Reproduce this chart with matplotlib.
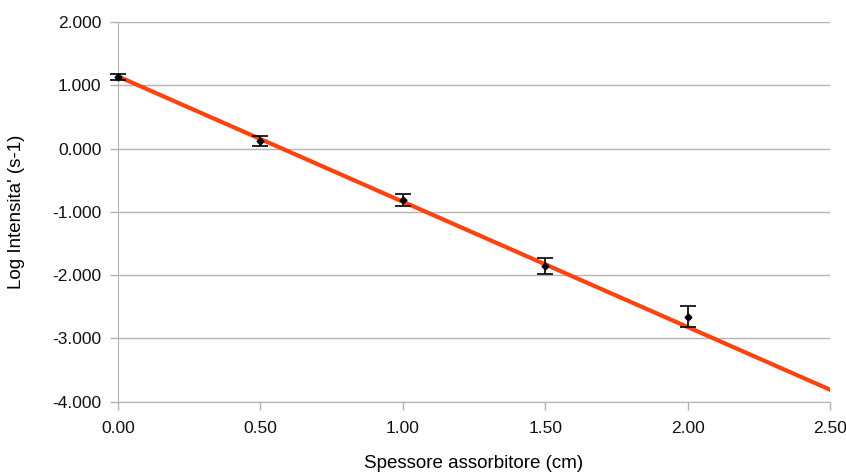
import matplotlib.pyplot as plt
import numpy as np

plt.rcParams['font.family'] = ['Liberation Sans', 'DejaVu Sans']

thickness = [0.0, 0.5, 1.0, 1.5, 2.0]
log_intensity = [1.13, 0.12, -0.81, -1.855, -2.655]
errors = [0.05, 0.08, 0.095, 0.125, 0.17]

# parametri della retta di fit
fit_slope = -1.98
fit_intercept = 1.14

fig = plt.figure(figsize=(8.46, 4.72), dpi=100)
ax = fig.add_axes([0.1395, 0.149, 0.8416, 0.8045])

x_fit = np.array([0.0, 2.5])
ax.plot(x_fit, fit_intercept + fit_slope * x_fit, color='#ff420e', lw=3, zorder=2)
eb = ax.errorbar(thickness, log_intensity, yerr=errors, fmt='D', color='black',
                 ms=3.5, capsize=5.5, elinewidth=1.2, capthick=1.2, zorder=3)
for art in eb.get_children():
    art.set_clip_on(False)

ax.set_xlim(0, 2.5)
ax.set_ylim(-4, 2)
ax.set_xticks(np.arange(0, 2.51, 0.5))
ax.set_yticks(np.arange(-4, 2.01, 1))
ax.xaxis.set_major_formatter(plt.FormatStrFormatter('%.2f'))
ax.yaxis.set_major_formatter(plt.FormatStrFormatter('%.3f'))
ax.grid(axis='y', color='#b3b3b3', lw=1)
ax.set_axisbelow(True)
for s in ['top', 'right']:
    ax.spines[s].set_visible(False)
for s in ['left', 'bottom']:
    ax.spines[s].set_color('#b3b3b3')
ax.tick_params(colors='#b3b3b3', labelcolor='#111111', labelsize=12.5, length=6, width=1)
ax.tick_params(axis='y', pad=6)
ax.tick_params(axis='x', pad=8)

ax.set_xlabel('Spessore assorbitore (cm)', fontsize=13.5)
ax.set_ylabel("Log Intensita' (s-1)", fontsize=13.5)
ax.xaxis.set_label_coords(0.5, -0.14)
ax.yaxis.set_label_coords(-0.13, 0.5)

fig.savefig('out.png', dpi=100)
